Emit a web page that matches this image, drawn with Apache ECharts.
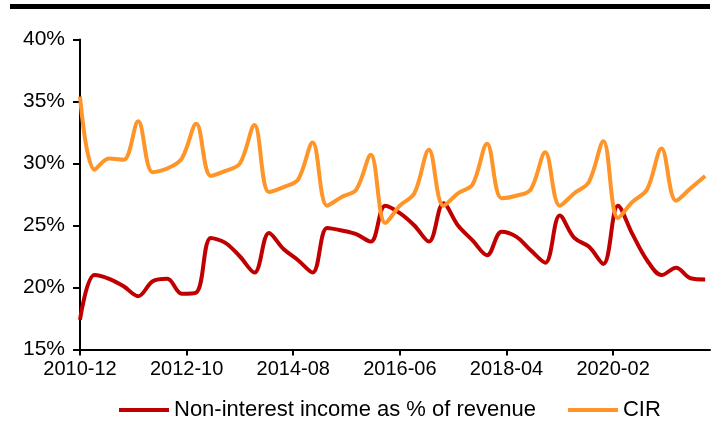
<!DOCTYPE html>
<html>
<head>
<meta charset="utf-8">
<script src="https://cdn.jsdelivr.net/npm/echarts@6/dist/echarts.min.js"></script>
<style>
  html, body { margin: 0; padding: 0; background: #fff; }
  #chart { width: 721px; height: 421px; }
</style>
</head>
<body>
<div id="chart"></div>
<script>
// Quarter-end periods
const quarters = [
  '2010-12',
  '2011-03','2011-06','2011-09','2011-12',
  '2012-03','2012-06','2012-09','2012-12',
  '2013-03','2013-06','2013-09','2013-12',
  '2014-03','2014-06','2014-09','2014-12',
  '2015-03','2015-06','2015-09','2015-12',
  '2016-03','2016-06','2016-09','2016-12',
  '2017-03','2017-06','2017-09','2017-12',
  '2018-03','2018-06','2018-09','2018-12',
  '2019-03','2019-06','2019-09','2019-12',
  '2020-03','2020-06','2020-09','2020-12',
  '2021-03','2021-06','2021-09'
];

// Non-interest income as % of revenue (%)
const nonInterestShare = [
  17.4,
  21.0, 20.7, 20.1, 19.3,
  20.5, 20.7, 19.5, 19.6,
  24.0, 23.6, 22.5, 21.2,
  24.4, 23.1, 22.2, 21.2,
  24.8, 24.6, 24.3, 23.7,
  26.6, 26.0, 25.0, 23.7,
  26.8, 25.0, 23.8, 22.6,
  24.5, 24.1, 23.0, 22.0,
  25.8, 24.0, 23.3, 21.9,
  26.6, 24.3, 22.2, 21.0,
  21.6, 20.75, 20.65
];

// Cost-to-income ratio (%)
const cir = [
  35.4,
  29.5, 30.4, 30.3, 33.4,
  29.3, 29.6, 30.4, 33.2,
  29.0, 29.4, 30.0, 33.1,
  27.7, 28.1, 28.7, 31.7,
  26.6, 27.3, 27.9, 30.7,
  25.2, 26.6, 27.6, 31.1,
  26.6, 27.6, 28.3, 31.6,
  27.2, 27.4, 27.9, 30.9,
  26.6, 27.6, 28.5, 31.8,
  25.6, 26.9, 27.9, 31.2,
  27.0, 28.0, 29.0
];

// Dates shown under the x axis
const xTickLabels = ['2010-12', '2012-10', '2014-08', '2016-06', '2018-04', '2020-02'];

const yTicks = { min: 15, max: 40, step: 5 };

// Month offsets from the first period place every point on a linear month scale
const START = quarters[0];
function monthOffset(ym) {
  const [y, m] = ym.split('-').map(Number);
  const [y0, m0] = START.split('-').map(Number);
  return (y - y0) * 12 + (m - m0);
}
function offsetToLabel(off) {
  const [y0, m0] = START.split('-').map(Number);
  const total = y0 * 12 + (m0 - 1) + off;
  const y = Math.floor(total / 12);
  const m = total % 12 + 1;
  return y + '-' + String(m).padStart(2, '0');
}

const xs = quarters.map(monthOffset);
const tickOffsets = xTickLabels.map(monthOffset);

const FONT = 'Liberation Sans, Arial, sans-serif';
const RED = '#C00000';
const ORANGE = '#FF9428';

const chart = echarts.init(document.getElementById('chart'), null, { renderer: 'canvas' });

chart.setOption({
  animation: false,
  backgroundColor: '#fff',
  textStyle: { fontFamily: FONT, color: '#000' },
  graphic: [{
    type: 'rect',
    left: 10, top: 4,
    shape: { width: 700, height: 5 },
    style: { fill: '#000' }
  }],
  grid: { left: 80, right: 11, top: 39.5, bottom: 71.5, containLabel: false },
  legend: {
    bottom: -5,
    left: 114,
    itemWidth: 50,
    itemHeight: 4,
    itemGap: 32,
    icon: 'rect',
    textStyle: { fontFamily: FONT, fontSize: 22, color: '#000' },
    data: ['Non-interest income as % of revenue', 'CIR']
  },
  xAxis: {
    type: 'value',
    min: 0,
    max: monthOffset(quarters[quarters.length - 1]) + 1,
    splitLine: { show: false },
    axisLine: { lineStyle: { color: '#000', width: 2 } },
    axisTick: { show: true, length: 6, lineStyle: { color: '#000', width: 2 }, customValues: tickOffsets },
    axisLabel: {
      customValues: tickOffsets,
      formatter: v => offsetToLabel(v),
      fontFamily: FONT, fontSize: 20, color: '#000', margin: 10
    }
  },
  yAxis: {
    type: 'value',
    min: yTicks.min,
    max: yTicks.max,
    interval: yTicks.step,
    splitLine: { show: false },
    axisLine: { show: true, lineStyle: { color: '#000', width: 2 } },
    axisTick: { show: true, length: 7, lineStyle: { color: '#000', width: 2 } },
    axisLabel: { formatter: '{value}%', fontFamily: FONT, fontSize: 21, color: '#000', margin: 15 }
  },
  series: [
    {
      name: 'Non-interest income as % of revenue',
      type: 'line',
      smooth: 0.35,
      showSymbol: false,
      color: RED,
      lineStyle: { color: RED, width: 4 },
      data: xs.map((x, i) => [x, nonInterestShare[i]])
    },
    {
      name: 'CIR',
      type: 'line',
      smooth: 0.35,
      showSymbol: false,
      color: ORANGE,
      lineStyle: { color: ORANGE, width: 4 },
      data: xs.map((x, i) => [x, cir[i]])
    }
  ]
});
</script>
</body>
</html>
